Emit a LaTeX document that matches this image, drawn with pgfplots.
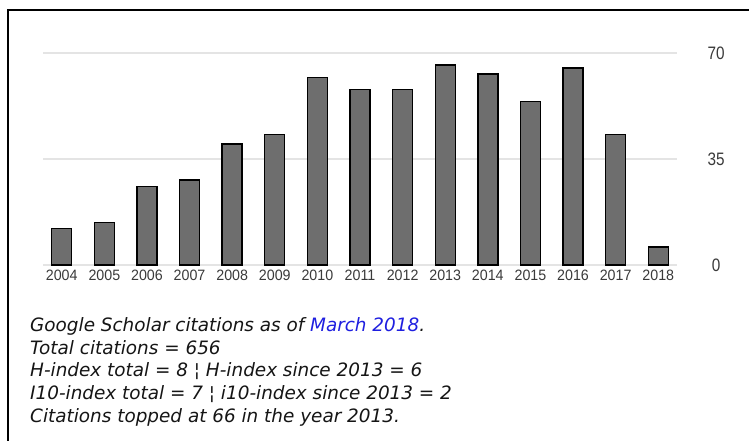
\documentclass[border=0pt]{standalone}
\usepackage{pgfplots}
\pgfplotsset{compat=1.18}
\usepackage{fontspec}
\setmainfont{Liberation Sans}
\newfontfamily\verd{DejaVu Sans}
\definecolor{barfill}{HTML}{6E6E6E}
\definecolor{gridc}{HTML}{E4E4E4}
\definecolor{ticklab}{HTML}{3A3A3A}
\definecolor{linkblue}{HTML}{1F1FE0}
\definecolor{txt}{HTML}{151515}
\pgfplotstableread{
idx val
0 12
1 14
2 26
3 28
4 40
5 43
6 62
7 58
8 58
9 66
10 63
11 54
12 65
13 43
14 6
}\citetable
\begin{document}
\begin{tikzpicture}[x=1pt,y=1pt]
\useasboundingbox (0,0) rectangle (749,441);
\fill[white] (0,0) rectangle (749,441);
\draw[line width=2pt, black] (8,-5) -- (8,430.5) -- (760,430.5);
\begin{axis}[
  at={(43pt,176pt)}, anchor=south west,
  scale only axis, width=634pt, height=212pt,
  xmin=-0.44, xmax=14.44, ymin=0, ymax=70,
  axis line style={draw=none},
  major tick length=0pt,
  ytick={0,35,70},
  yticklabel pos=right,
  ymajorgrids, grid style={gridc, line width=2.2pt},
  xtick={0,...,14},
  xticklabels={2004,2005,2006,2007,2008,2009,2010,2011,2012,2013,2014,2015,2016,2017,2018},
  /pgf/number format/assume math mode=true,
  xticklabel style={font=\fontsize{15}{15}\selectfont, text=ticklab, yshift=-1pt, xscale=0.95},
  yticklabel style={font=\fontsize{18}{18}\selectfont, text=ticklab, anchor=center, xshift=39pt, xscale=0.85},
  clip=false,
]
\addplot[ybar, bar width=20pt, fill=barfill, draw=black, line width=1.4pt] table[x=idx,y=val]{\citetable};
\end{axis}
\begin{scope}[font=\verd\itshape\fontsize{18.4}{22}\selectfont, text=txt]
\node[anchor=base west, inner sep=0pt] at (30,109) {Google Scholar citations as of \textcolor{linkblue}{March 2018}.};
\node[anchor=base west, inner sep=0pt] at (30,86.5) {Total citations = 656};
\node[anchor=base west, inner sep=0pt] at (30,64) {H-index total = 8 ¦ H-index since 2013 = 6};
\node[anchor=base west, inner sep=0pt] at (30,41) {I10-index total = 7 ¦ i10-index since 2013 = 2};
\node[anchor=base west, inner sep=0pt] at (30,18.5) {Citations topped at 66 in the year 2013.};
\end{scope}
\end{tikzpicture}
\end{document}
